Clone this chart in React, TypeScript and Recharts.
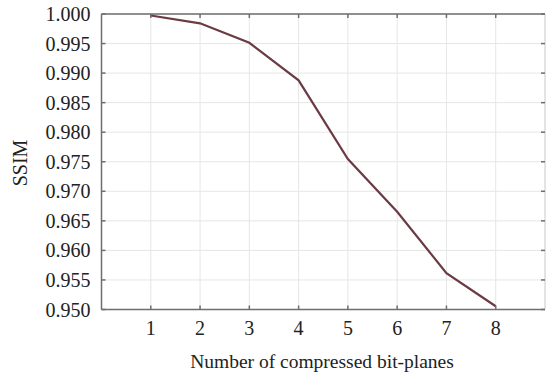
import { CartesianGrid, Line, LineChart, ReferenceLine, XAxis, YAxis } from "recharts";

const bitPlanes = [1, 2, 3, 4, 5, 6, 7, 8];
const ssim = [0.99975, 0.99842, 0.99512, 0.98878, 0.97545, 0.96655, 0.95615, 0.95055];
const yTicks = [0.95, 0.955, 0.96, 0.965, 0.97, 0.975, 0.98, 0.985, 0.99, 0.995, 1.0];

const rows = bitPlanes.map((b, i) => ({ planes: b, ssim: ssim[i] }));

const FONT = "Liberation Serif";
const FRAME = "#6e6e6e";
const TEXT = "#222";
const TICK_LEN = 4;
const GAP = 11;
const W = 546;
const H = 377;
const MARGIN = { top: 14, right: 1, bottom: 0, left: 0 };
const PLOT_TOP = MARGIN.top;
const PLOT_RIGHT = W - MARGIN.right;

type TickProps = { x: number; y: number; payload: { value: number } };

function LeftTick({ x, y, payload }: TickProps) {
  const edge = x + GAP;
  return (
    <g>
      <line x1={edge} x2={edge + TICK_LEN} y1={y} y2={y} stroke={FRAME} strokeWidth={1.5} />
      <line x1={PLOT_RIGHT} x2={PLOT_RIGHT - TICK_LEN} y1={y} y2={y} stroke={FRAME} strokeWidth={1.5} />
      <text x={x} y={y} dy={7} textAnchor="end" fontFamily={FONT} fontSize={20} fill={TEXT}>
        {payload.value.toFixed(3)}
      </text>
    </g>
  );
}

function BottomTick({ x, y, payload }: TickProps) {
  const edge = y - GAP;
  return (
    <g>
      <line x1={x} x2={x} y1={edge} y2={edge - TICK_LEN} stroke={FRAME} strokeWidth={1.5} />
      <line x1={x} x2={x} y1={PLOT_TOP} y2={PLOT_TOP + TICK_LEN} stroke={FRAME} strokeWidth={1.5} />
      <text x={x} y={y} dy={14.5} textAnchor="middle" fontFamily={FONT} fontSize={20} fill={TEXT}>
        {payload.value}
      </text>
    </g>
  );
}

export default function App() {
  return (
    <div style={{ width: W, height: H, background: "#fff", position: "relative", overflow: "hidden" }}>
      <style>{`body{margin:0}`}</style>
      <LineChart width={W} height={H} data={rows} margin={MARGIN}>
        <CartesianGrid stroke="#e6e6e6" strokeWidth={1} />
        <XAxis
          dataKey="planes"
          type="number"
          domain={[0, 9]}
          ticks={bitPlanes}
          interval={0}
          height={67.5}
          tickSize={0}
          tickMargin={GAP}
          axisLine={{ stroke: FRAME, strokeWidth: 1.5 }}
          tick={BottomTick}
        />
        <YAxis
          domain={[0.95, 1]}
          ticks={yTicks}
          interval={0}
          width={101.5}
          tickSize={0}
          tickMargin={GAP}
          axisLine={{ stroke: FRAME, strokeWidth: 1.5 }}
          tick={LeftTick}
        />
        <ReferenceLine y={1} stroke={FRAME} strokeWidth={1.5} ifOverflow="visible" />
        <ReferenceLine x={9} stroke="#d4d4d4" strokeWidth={1} ifOverflow="visible" />
        <Line
          dataKey="ssim"
          stroke="#6b3b44"
          strokeWidth={2.2}
          dot={false}
          isAnimationActive={false}
        />
      </LineChart>
      <div
        style={{
          position: "absolute",
          left: 0,
          width: W,
          top: 351,
          paddingLeft: 98,
          boxSizing: "border-box",
          textAlign: "center",
          fontFamily: FONT,
          fontSize: 19.5,
          color: TEXT,
        }}
      >
        Number of compressed bit-planes
      </div>
      <div
        style={{
          position: "absolute",
          left: 20,
          top: 163,
          transform: "translate(-50%, -50%) rotate(-90deg)",
          fontFamily: FONT,
          fontSize: 20,
          color: TEXT,
          whiteSpace: "nowrap",
        }}
      >
        SSIM
      </div>
    </div>
  );
}
